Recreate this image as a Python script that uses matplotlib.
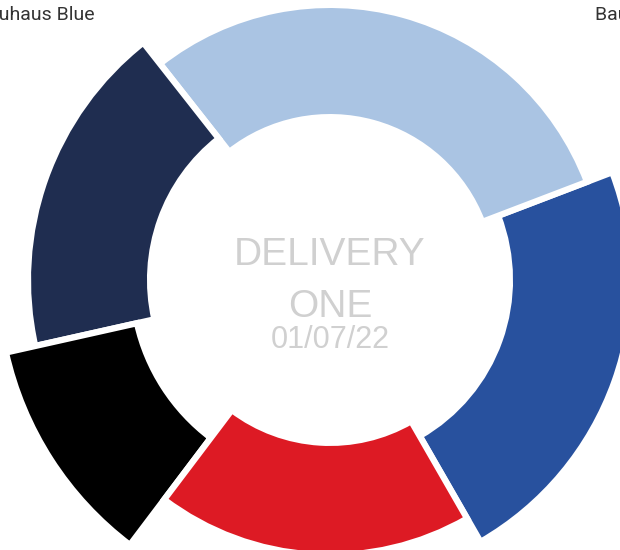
import matplotlib.pyplot as plt

# slice data (counter-clockwise from the lower right)
names = ['Bauhaus Light Blue', 'Bauhaus Sky', 'Bauhaus Blue', 'Bauhaus Black', 'Bauhaus Red']
values = [22.5, 29.8, 17.9, 11.2, 18.6]
colors = ['#28519e', '#aac4e3', '#1f2d50', '#000000', '#dd1a24']
outer = [1.098, 1.0, 1.098, 1.207, 1.0]
inner = [0.654, 0.592, 0.654, 0.719, 0.592]
title_lines = ['DELIVERY', 'ONE']
date_label = '01/07/22'

W, H = 620, 550
fig = plt.figure(figsize=(W / 100, H / 100), dpi=100)
ax = fig.add_axes([0, 0, 1, 1])

wedges, _ = ax.pie(values, colors=colors, startangle=299.9, counterclock=True,
                   radius=1, wedgeprops=dict(width=0.4, edgecolor='white', linewidth=4.5))

# some slices stick out further than others
for w, ro, ri in zip(wedges, outer, inner):
    w.set_radius(ro)
    w.set_width(ro - ri)

# centre of the ring sits at (330, 280) px
s = 275.1
cx, cy = 330, 280
ax.set_aspect('auto')
ax.set_xlim(-cx / s, (W - cx) / s)
ax.set_ylim(-(H - cy) / s, cy / s)
ax.axis('off')

txt = dict(family=['Liberation Sans', 'DejaVu Sans'], color='#d0d0d0', ha='center', va='baseline')
fig.text(cx / W, 1 - 265 / H, title_lines[0], fontsize=28, **txt)
fig.text(cx / W, 1 - 317 / H, title_lines[1], fontsize=28, **txt)
fig.text(cx / W, 1 - 348 / H, date_label, fontsize=22, **txt)

# outside labels, mostly cut off by the canvas edge
lab = dict(family=['Liberation Sans Narrow', 'Roboto', 'DejaVu Sans'], color='#333333',
           fontsize=14, va='baseline')
fig.text(95 / W, 1 - 20 / H, names[2], ha='right', **lab)
fig.text(595 / W, 1 - 20 / H, names[0], ha='left', **lab)

fig.savefig('out.png', dpi=100)
